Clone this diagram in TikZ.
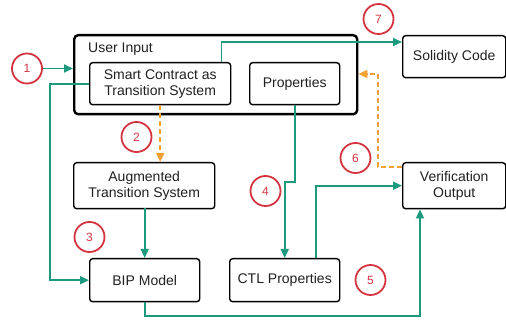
\documentclass[tikz,border=0pt]{standalone}
\usepackage{fontspec}
\setmainfont{Liberation Sans}
\usetikzlibrary{arrows.meta,calc}
\definecolor{flowgreen}{HTML}{1B9A7D}
\definecolor{flowor}{HTML}{F5A032}
\definecolor{stepred}{HTML}{D3343F}
\definecolor{txt}{HTML}{202020}
\tikzset{
  box/.style={draw=black, line width=1.4pt, rounded corners=3pt, anchor=north west, align=center,
    font=\fontsize{14}{16}\selectfont, text=txt, inner sep=0pt},
  outerbox/.style={draw=black, line width=2.4pt, rounded corners=4pt, anchor=north west, inner sep=0pt},
  circ/.style={circle, draw=stepred, line width=1.8pt, minimum size=30pt, inner sep=0pt,
    text=stepred, font=\fontsize{12}{14}\selectfont},
  flow/.style={draw=flowgreen, line width=1.8pt, -{Triangle[length=9pt,width=8pt]}},
  dflow/.style={draw=flowor, line width=1.8pt, dash pattern=on 5pt off 3pt, -{Triangle[length=9pt,width=8pt]}}
}
\begin{document}
\begin{tikzpicture}[x=1pt,y=-1pt]
\useasboundingbox (0,0) rectangle (506,320);
% boxes
\node[outerbox, minimum width=283pt, minimum height=79pt] (ui) at (73,34) {};
\node[anchor=west, font=\fontsize{14}{16}\selectfont, text=txt, inner sep=0pt] (uit) at (88,49) {User Input};
\node[box, minimum width=141pt, minimum height=42pt] (sc) at (89,62) {Smart Contract as\\Transition System};
\node[box, minimum width=90pt, minimum height=42pt] (prop) at (249,62) {Properties};
\node[box, minimum width=103pt, minimum height=42pt] (sol) at (402,35) {Solidity Code};
\node[box, minimum width=141pt, minimum height=46pt] (aug) at (73,162) {Augmented\\Transition System};
\node[box, minimum width=110pt, minimum height=43pt] (bip) at (89,258) {BIP Model};
\node[box, minimum width=110pt, minimum height=43pt] (ctl) at (229,258) {CTL Properties};
\node[box, minimum width=103pt, minimum height=46pt] (ver) at (402,162) {Verification\\Output};
% circles
\node[circ] (c1) at (27,68.5) {1};
\node[circ] (c2) at (136.5,137) {2};
\node[circ] (c3) at (89.5,237) {3};
\node[circ] (c4) at (265.5,191) {4};
\node[circ] (c5) at (370.5,280) {5};
\node[circ] (c6) at (355.5,158) {6};
\node[circ] (c7) at (378.5,19) {7};
% connectors
\draw[flow] (c1.east) -- (c1.east -| ui.west);
\draw[flow] (sc.west) -- ++(-39,0) |- (bip.west);
\draw[flow] ([xshift=-10pt]sc.north east) |- ($(sol.north west)+(0,7)$);
\draw[dflow] (sc.south) -- (sc.south |- aug.north);
\draw[flow] (aug.south) -- (aug.south -| bip.north) -- (bip.north);
\draw[flow] (prop.south) -- (prop.south |- 0,182) -| (ctl.north);
\draw[flow] ([xshift=31pt]ctl.north) |- (ver.west);
\draw[flow] (bip.south) |- (420,316) -- (ver.south -| 420,0);
\draw[dflow] ($(ver.north west)+(0,5)$) -| (378,74) -- (ui.east |- 0,74);
\end{tikzpicture}
\end{document}
